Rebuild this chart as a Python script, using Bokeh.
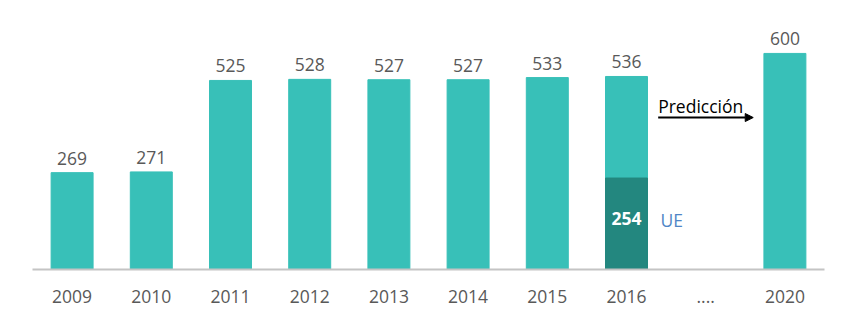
from bokeh.plotting import figure
from bokeh.models import ColumnDataSource, Range1d, Arrow, NormalHead, FixedTicker
from bokeh.core.properties import value
from bokeh.embed import file_html
from bokeh.resources import INLINE

categories = ["2009", "2010", "2011", "2012", "2013", "2014", "2015", "2016", "....", "2020"]
totals = [269, 271, 525, 528, 527, 527, 533, 536, None, 600]
ue_category = "2016"
ue_value = 254
ue_label = "UE"
prediction_label = "Predicción"

LIGHT = "#38c0b8"
DARK = "#23877f"
GREY = "#595959"
FONT = "Open Sans"
FS = "17.5px"

pos = {c: i + 0.5 for i, c in enumerate(categories)}
bar_x = [pos[c] for c, t in zip(categories, totals) if t is not None]
bar_top = [t for t in totals if t is not None]
src = ColumnDataSource(dict(x=bar_x, top=bar_top, label=[str(t) for t in bar_top]))

p = figure(frame_width=792, frame_height=269, output_backend="svg", toolbar_location=None,
           x_range=Range1d(0, len(categories)), y_range=Range1d(0, 747),
           min_border_left=32, min_border_right=26, min_border_top=0, min_border_bottom=58)

p.vbar(x="x", top="top", width=0.53, source=src, color=LIGHT)
xu = pos[ue_category]
p.vbar(x=[xu], top=[ue_value], width=0.53, color=DARK)

p.text(x="x", y="top", text="label", source=src, text_align="center", text_baseline="bottom",
       y_offset=-8, text_font=value(FONT), text_font_size=FS, text_color=GREY)

p.text(x=[xu], y=[ue_value * 0.56], text=[str(ue_value)], text_align="center",
       text_baseline="middle", text_font=value(FONT), text_font_size=FS,
       text_font_style="bold", text_color="white")

p.text(x=[xu + 0.43], y=[ue_value * 0.54], text=[ue_label],
       text_align="left", text_baseline="middle", text_font=value(FONT),
       text_font_size=FS, text_color="#4f86c6")

p.text(x=[xu + 0.4], y=[455], text=[prediction_label],
       text_align="left", text_baseline="middle", text_font=value(FONT),
       text_font_size=FS, text_color="black")
p.add_layout(Arrow(x_start=xu + 0.4, x_end=xu + 1.6, y_start=422, y_end=422,
                   line_color="black", line_width=2,
                   end=NormalHead(size=8, fill_color="black", line_color="black")))

p.yaxis.visible = False
p.xgrid.visible = False
p.ygrid.visible = False
p.outline_line_color = None
ax = p.xaxis[0]
ax.ticker = FixedTicker(ticks=[pos[c] for c in categories])
ax.major_label_overrides = {pos[c]: c for c in categories}
ax.axis_line_color = "#c4c4c4"
ax.axis_line_width = 2
ax.major_tick_line_color = None
ax.minor_tick_line_color = None
ax.major_label_standoff = 14
ax.major_label_text_font = FONT
ax.major_label_text_font_size = FS
ax.major_label_text_color = GREY

open("out.html", "w").write(file_html(p, INLINE))
